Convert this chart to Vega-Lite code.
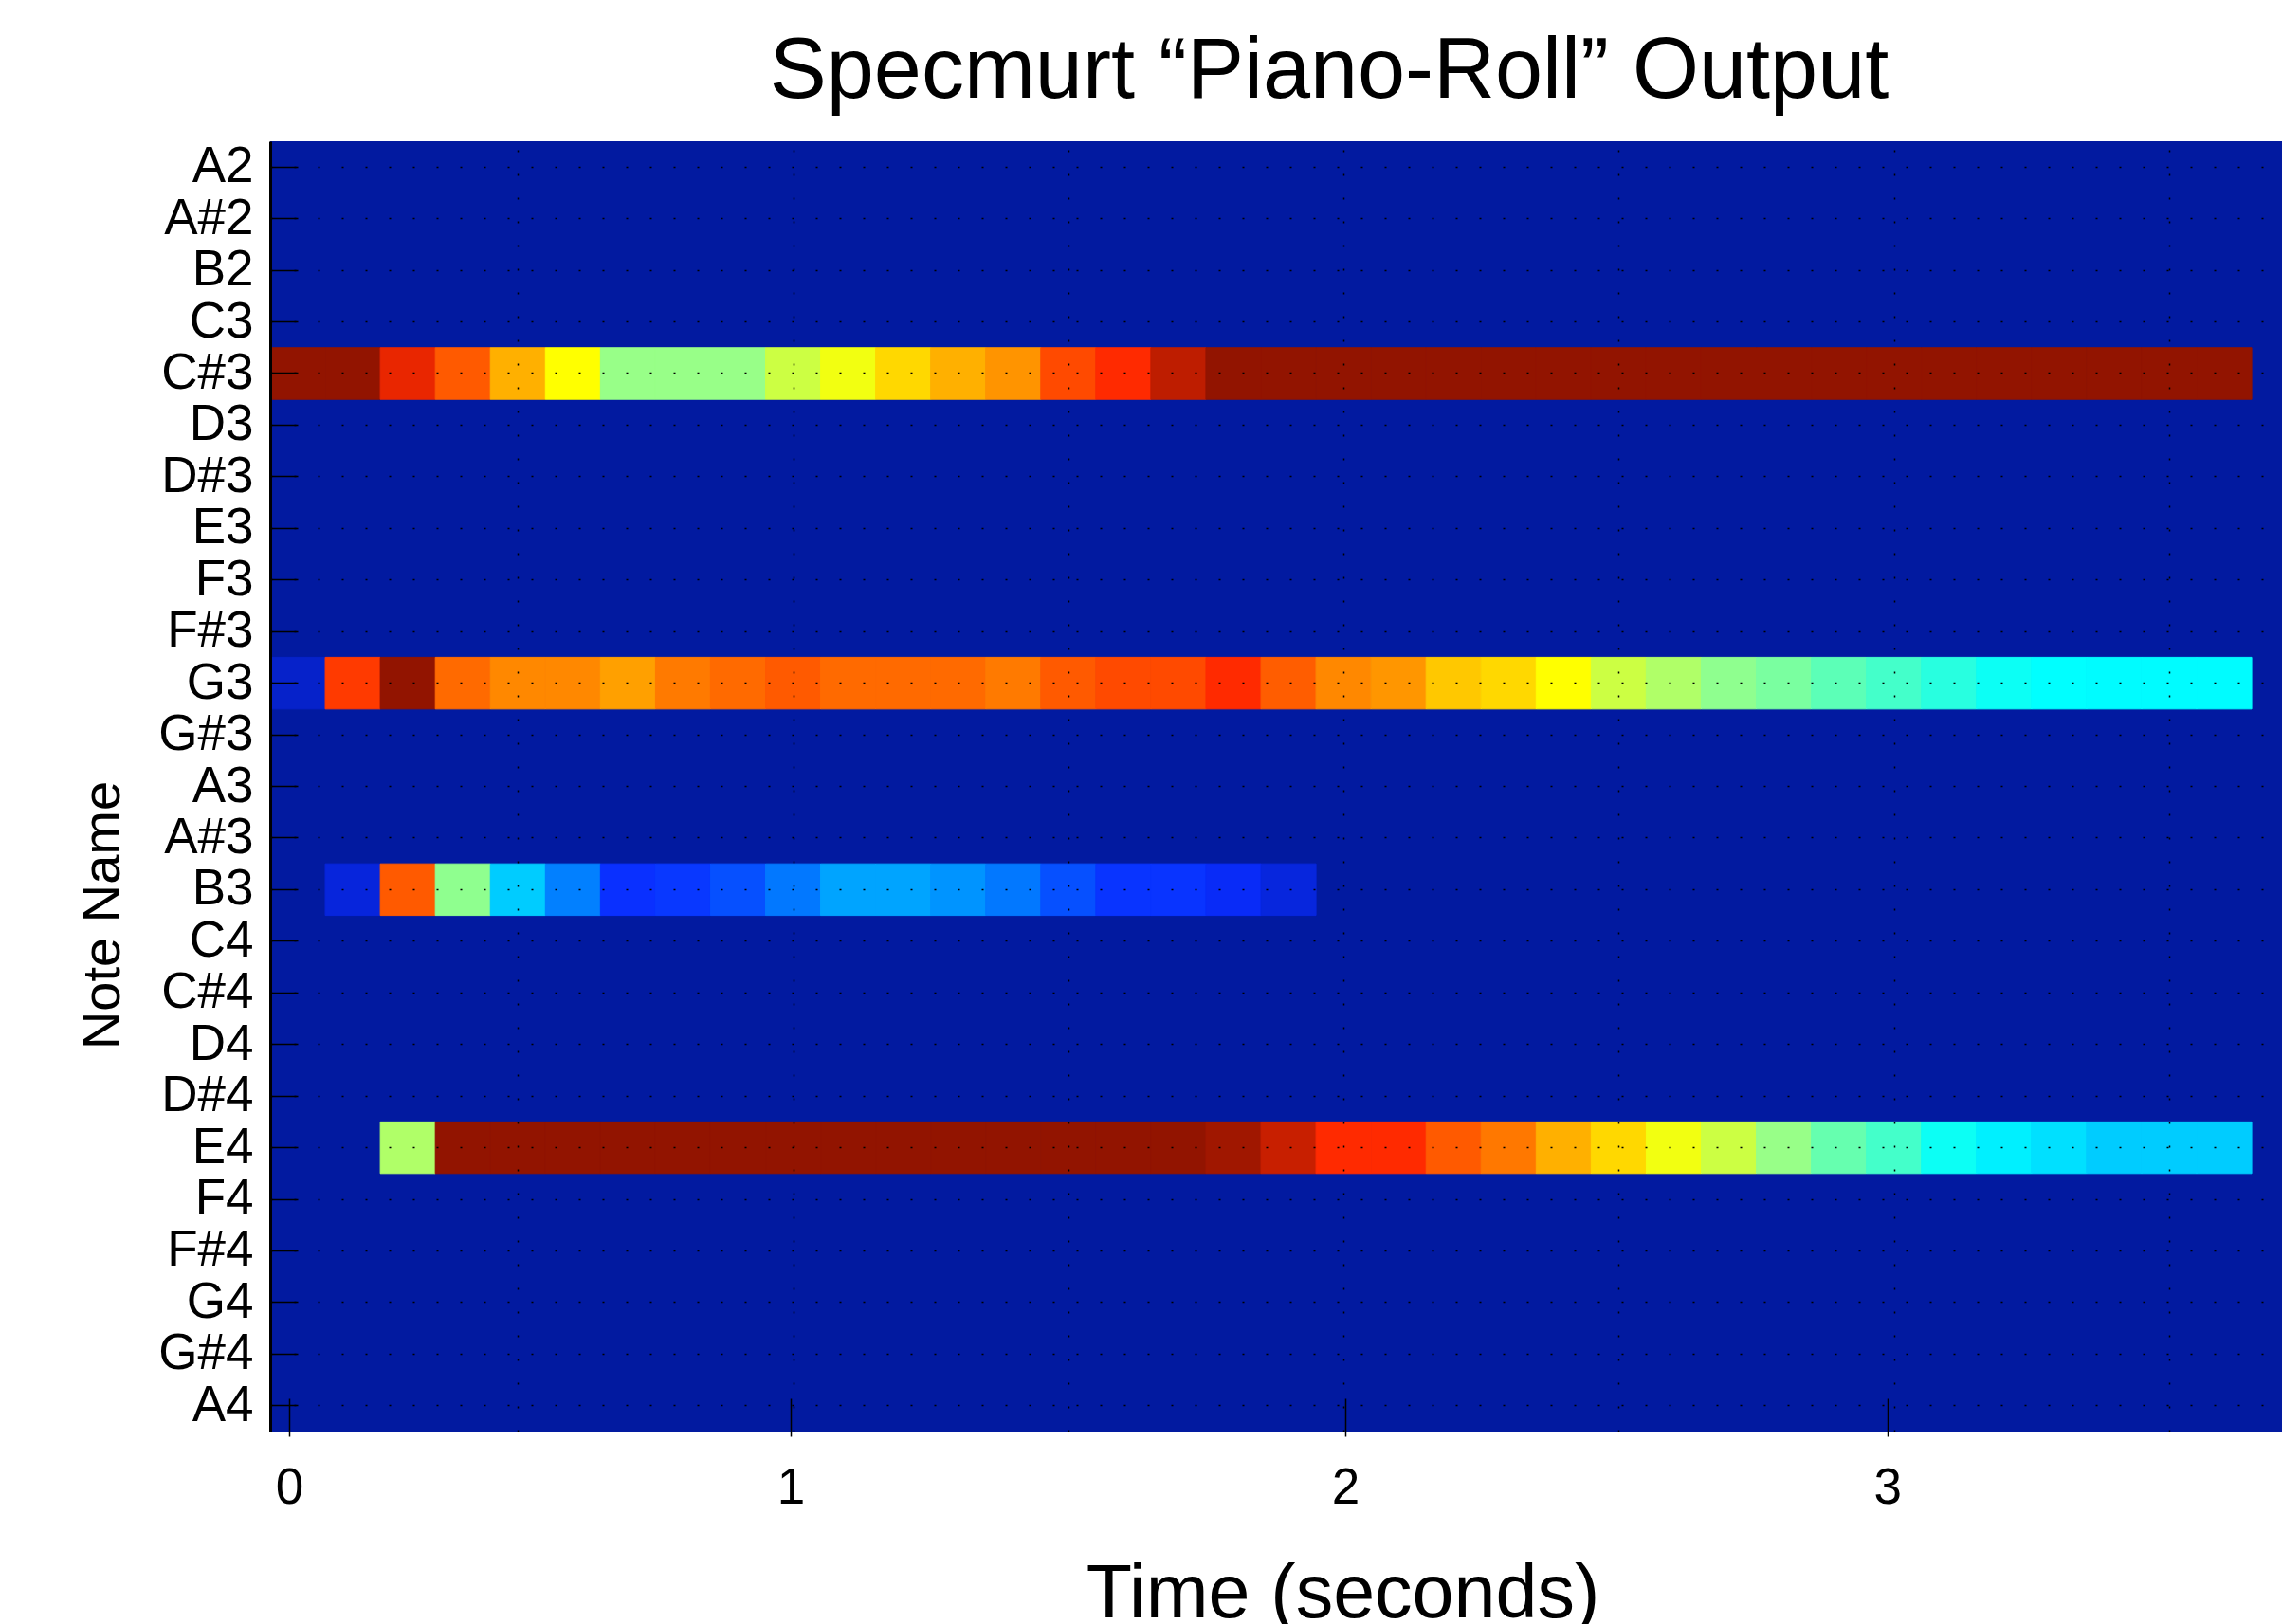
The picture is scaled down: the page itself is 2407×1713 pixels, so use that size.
{
"$schema":"https://vega.github.io/schema/vega-lite/v6.json",
"width":2122,"height":1361,
"autosize":{"type":"none"},
"padding":{"left":285,"top":149,"right":0,"bottom":203},
"background":"white",
"config":{"view":{"stroke":null,"fill":"#021AA0"},"font":"Liberation Sans"},
"title":{"text":"Specmurt “Piano-Roll” Output","font":"Liberation Sans","fontSize":90,"fontWeight":"normal","color":"black","anchor":"middle","baseline":"alphabetic","offset":45,"dx":56,"dy":89},
"data":{"values":[
{"n":"C#3","t0":0.05,"t1":0.15,"v":1},{"n":"C#3","t0":0.15,"t1":0.25,"v":1},{"n":"C#3","t0":0.25,"t1":0.35,"v":0.9},{"n":"C#3","t0":0.35,"t1":0.45,"v":0.814},{"n":"C#3","t0":0.45,"t1":0.55,"v":0.711},{"n":"C#3","t0":0.55,"t1":0.65,"v":0.625},{"n":"C#3","t0":0.65,"t1":0.75,"v":0.5},{"n":"C#3","t0":0.75,"t1":0.85,"v":0.5},{"n":"C#3","t0":0.85,"t1":0.95,"v":0.5},{"n":"C#3","t0":0.95,"t1":1.05,"v":0.563},{"n":"C#3","t0":1.05,"t1":1.15,"v":0.609},{"n":"C#3","t0":1.15,"t1":1.25,"v":0.667},{"n":"C#3","t0":1.25,"t1":1.35,"v":0.711},{"n":"C#3","t0":1.35,"t1":1.45,"v":0.741},{"n":"C#3","t0":1.45,"t1":1.55,"v":0.834},{"n":"C#3","t0":1.55,"t1":1.65,"v":0.875},{"n":"C#3","t0":1.65,"t1":1.75,"v":0.95},{"n":"C#3","t0":1.75,"t1":1.85,"v":1},{"n":"C#3","t0":1.85,"t1":1.95,"v":1},{"n":"C#3","t0":1.95,"t1":2.05,"v":1},{"n":"C#3","t0":2.05,"t1":2.15,"v":1},{"n":"C#3","t0":2.15,"t1":2.25,"v":1},{"n":"C#3","t0":2.25,"t1":2.35,"v":1},{"n":"C#3","t0":2.35,"t1":2.45,"v":1},{"n":"C#3","t0":2.45,"t1":2.55,"v":1},{"n":"C#3","t0":2.55,"t1":2.65,"v":1},{"n":"C#3","t0":2.65,"t1":2.75,"v":1},{"n":"C#3","t0":2.75,"t1":2.85,"v":1},{"n":"C#3","t0":2.85,"t1":2.95,"v":1},{"n":"C#3","t0":2.95,"t1":3.05,"v":1},{"n":"C#3","t0":3.05,"t1":3.15,"v":1},{"n":"C#3","t0":3.15,"t1":3.25,"v":1},{"n":"C#3","t0":3.25,"t1":3.35,"v":1},{"n":"C#3","t0":3.35,"t1":3.45,"v":1},{"n":"C#3","t0":3.45,"t1":3.55,"v":1},{"n":"C#3","t0":3.55,"t1":3.65,"v":1},
{"n":"G3","t0":0.05,"t1":0.15,"v":0.055},{"n":"G3","t0":0.15,"t1":0.25,"v":0.855},{"n":"G3","t0":0.25,"t1":0.35,"v":1},{"n":"G3","t0":0.35,"t1":0.45,"v":0.794},{"n":"G3","t0":0.45,"t1":0.55,"v":0.755},{"n":"G3","t0":0.55,"t1":0.65,"v":0.755},{"n":"G3","t0":0.65,"t1":0.75,"v":0.728},{"n":"G3","t0":0.75,"t1":0.85,"v":0.773},{"n":"G3","t0":0.85,"t1":0.95,"v":0.794},{"n":"G3","t0":0.95,"t1":1.05,"v":0.814},{"n":"G3","t0":1.05,"t1":1.15,"v":0.794},{"n":"G3","t0":1.15,"t1":1.25,"v":0.794},{"n":"G3","t0":1.25,"t1":1.35,"v":0.794},{"n":"G3","t0":1.35,"t1":1.45,"v":0.773},{"n":"G3","t0":1.45,"t1":1.55,"v":0.814},{"n":"G3","t0":1.55,"t1":1.65,"v":0.834},{"n":"G3","t0":1.65,"t1":1.75,"v":0.834},{"n":"G3","t0":1.75,"t1":1.85,"v":0.875},{"n":"G3","t0":1.85,"t1":1.95,"v":0.81},{"n":"G3","t0":1.95,"t1":2.05,"v":0.755},{"n":"G3","t0":2.05,"t1":2.15,"v":0.739},{"n":"G3","t0":2.15,"t1":2.25,"v":0.685},{"n":"G3","t0":2.25,"t1":2.35,"v":0.667},{"n":"G3","t0":2.35,"t1":2.45,"v":0.625},{"n":"G3","t0":2.45,"t1":2.55,"v":0.563},{"n":"G3","t0":2.55,"t1":2.65,"v":0.529},{"n":"G3","t0":2.65,"t1":2.75,"v":0.493},{"n":"G3","t0":2.75,"t1":2.85,"v":0.475},{"n":"G3","t0":2.85,"t1":2.95,"v":0.451},{"n":"G3","t0":2.95,"t1":3.05,"v":0.431},{"n":"G3","t0":3.05,"t1":3.15,"v":0.408},{"n":"G3","t0":3.15,"t1":3.25,"v":0.385},{"n":"G3","t0":3.25,"t1":3.35,"v":0.375},{"n":"G3","t0":3.35,"t1":3.45,"v":0.372},{"n":"G3","t0":3.45,"t1":3.55,"v":0.372},{"n":"G3","t0":3.55,"t1":3.65,"v":0.372},
{"n":"B3","t0":0.15,"t1":0.25,"v":0.079},{"n":"B3","t0":0.25,"t1":0.35,"v":0.814},{"n":"B3","t0":0.35,"t1":0.45,"v":0.493},{"n":"B3","t0":0.45,"t1":0.55,"v":0.318},{"n":"B3","t0":0.55,"t1":0.65,"v":0.23},{"n":"B3","t0":0.65,"t1":0.75,"v":0.13},{"n":"B3","t0":0.75,"t1":0.85,"v":0.14},{"n":"B3","t0":0.85,"t1":0.95,"v":0.17},{"n":"B3","t0":0.95,"t1":1.05,"v":0.22},{"n":"B3","t0":1.05,"t1":1.15,"v":0.273},{"n":"B3","t0":1.15,"t1":1.25,"v":0.273},{"n":"B3","t0":1.25,"t1":1.35,"v":0.255},{"n":"B3","t0":1.35,"t1":1.45,"v":0.22},{"n":"B3","t0":1.45,"t1":1.55,"v":0.17},{"n":"B3","t0":1.55,"t1":1.65,"v":0.135},{"n":"B3","t0":1.65,"t1":1.75,"v":0.135},{"n":"B3","t0":1.75,"t1":1.85,"v":0.115},{"n":"B3","t0":1.85,"t1":1.95,"v":0.08},
{"n":"E4","t0":0.25,"t1":0.35,"v":0.529},{"n":"E4","t0":0.35,"t1":0.45,"v":1},{"n":"E4","t0":0.45,"t1":0.55,"v":1},{"n":"E4","t0":0.55,"t1":0.65,"v":1},{"n":"E4","t0":0.65,"t1":0.75,"v":1},{"n":"E4","t0":0.75,"t1":0.85,"v":1},{"n":"E4","t0":0.85,"t1":0.95,"v":1},{"n":"E4","t0":0.95,"t1":1.05,"v":1},{"n":"E4","t0":1.05,"t1":1.15,"v":1},{"n":"E4","t0":1.15,"t1":1.25,"v":1},{"n":"E4","t0":1.25,"t1":1.35,"v":1},{"n":"E4","t0":1.35,"t1":1.45,"v":1},{"n":"E4","t0":1.45,"t1":1.55,"v":1},{"n":"E4","t0":1.55,"t1":1.65,"v":1},{"n":"E4","t0":1.65,"t1":1.75,"v":1},{"n":"E4","t0":1.75,"t1":1.85,"v":0.984},{"n":"E4","t0":1.85,"t1":1.95,"v":0.938},{"n":"E4","t0":1.95,"t1":2.05,"v":0.875},{"n":"E4","t0":2.05,"t1":2.15,"v":0.875},{"n":"E4","t0":2.15,"t1":2.25,"v":0.814},{"n":"E4","t0":2.25,"t1":2.35,"v":0.775},{"n":"E4","t0":2.35,"t1":2.45,"v":0.711},{"n":"E4","t0":2.45,"t1":2.55,"v":0.667},{"n":"E4","t0":2.55,"t1":2.65,"v":0.609},{"n":"E4","t0":2.65,"t1":2.75,"v":0.563},{"n":"E4","t0":2.75,"t1":2.85,"v":0.5},{"n":"E4","t0":2.85,"t1":2.95,"v":0.459},{"n":"E4","t0":2.95,"t1":3.05,"v":0.431},{"n":"E4","t0":3.05,"t1":3.15,"v":0.385},{"n":"E4","t0":3.15,"t1":3.25,"v":0.358},{"n":"E4","t0":3.25,"t1":3.35,"v":0.34},{"n":"E4","t0":3.35,"t1":3.45,"v":0.318},{"n":"E4","t0":3.45,"t1":3.55,"v":0.318},{"n":"E4","t0":3.55,"t1":3.65,"v":0.318}
]},
"layer":[
{"mark":{"type":"rect","strokeWidth":1},
 "encoding":{
  "x":{"field":"t0","type":"quantitative","scale":{"domain":[0.05,3.705],"nice":false,"zero":false},
   "axis":{"orient":"bottom","values":[0.0844,0.9956,2.003,2.988],"labelExpr":"format(round(datum.value),'d')","grid":false,"domain":false,"ticks":true,"tickSize":40,"tickWidth":1.5,"tickColor":"black","offset":-35,"labelFont":"Liberation Sans","labelFontSize":53,"labelColor":"black","labelPadding":28,"labelFlush":false,"labelOverlap":false,"title":"Time (seconds)","titleFont":"Liberation Sans","titleFontSize":79,"titleFontWeight":"normal","titleColor":"black","titleX":1131,"titleY":230,"titleAlign":"center","titleBaseline":"alphabetic","zindex":1}},
  "x2":{"field":"t1"},
  "y":{"field":"n","type":"nominal","scale":{"domain":["A2","A#2","B2","C3","C#3","D3","D#3","E3","F3","F#3","G3","G#3","A3","A#3","B3","C4","C#4","D4","D#4","E4","F4","F#4","G4","G#4","A4"],"paddingInner":0,"paddingOuter":0},
   "axis":{"grid":true,"gridDash":[2,23],"gridColor":"black","gridWidth":1.5,"gridOpacity":1,"domain":true,"domainColor":"black","domainWidth":3,"tickSize":-29,"tickWidth":1.5,"tickColor":"black","labelFont":"Liberation Sans","labelFontSize":53,"labelColor":"black","labelPadding":47,"labelOverlap":false,"title":"Note Name","titleFont":"Liberation Sans","titleFontSize":56,"titleFontWeight":"normal","titleColor":"black","titleAngle":270,"titleX":-160,"titleY":816,"titleAlign":"center","titleBaseline":"alphabetic","zindex":1}},
  "color":{"field":"v","type":"quantitative","legend":null,
   "scale":{"type":"linear","domain":[0,0.125,0.25,0.375,0.5,0.625,0.75,0.875,1],"range":["#021AA0","#0A2CFF","#0090FF","#00FFFF","#98FF88","#FFFF00","#FF8C00","#FF2A00","#921400"],"interpolate":"rgb"}},
  "stroke":{"field":"v","type":"quantitative","legend":null,
   "scale":{"type":"linear","domain":[0,0.125,0.25,0.375,0.5,0.625,0.75,0.875,1],"range":["#021AA0","#0A2CFF","#0090FF","#00FFFF","#98FF88","#FFFF00","#FF8C00","#FF2A00","#921400"],"interpolate":"rgb"}}
 }},
{"mark":{"type":"rect","opacity":0},
 "encoding":{
  "x":{"field":"t0","type":"quantitative",
   "axis":{"orient":"bottom","values":[0.5,1,1.5,2,2.5,3,3.5],"grid":true,"gridDash":[2,23],"gridColor":"black","gridWidth":1.5,"gridOpacity":1,"labels":false,"ticks":false,"domain":false,"title":null,"zindex":1}},
  "x2":{"field":"t1"}
 }}
],
"resolve":{"axis":{"x":"independent"}}
}
